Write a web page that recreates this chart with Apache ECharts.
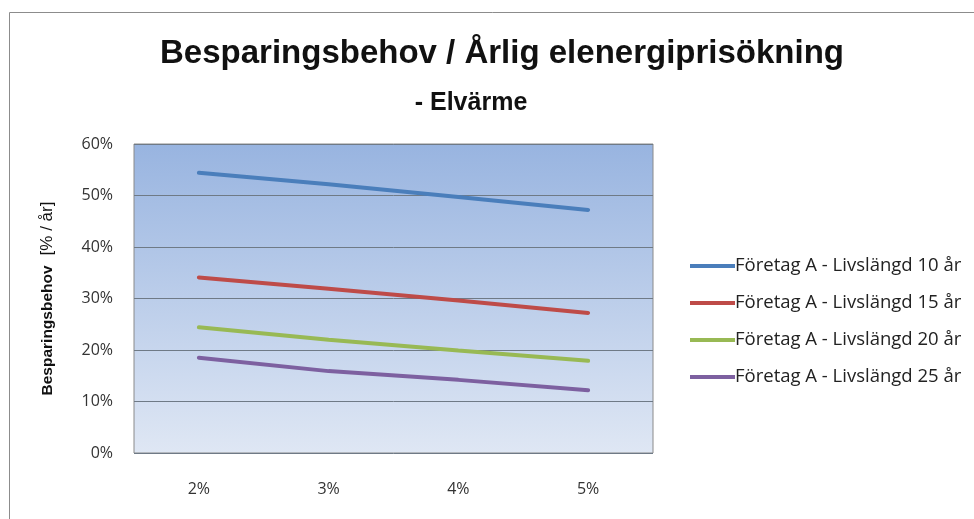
<!DOCTYPE html>
<html>
<head>
<meta charset="utf-8">
<script src="https://cdn.jsdelivr.net/npm/echarts@6/dist/echarts.min.js"></script>
<style>
html,body{margin:0;padding:0;background:#fff;}
#c{width:974px;height:519px;}
</style>
</head>
<body>
<div id="c"></div>
<script>
var categories = ['2%', '3%', '4%', '5%'];
var seriesNames = [
  'Företag A - Livslängd 10 år',
  'Företag A - Livslängd 15 år',
  'Företag A - Livslängd 20 år',
  'Företag A - Livslängd 25 år'
];
var life10 = [54.4, 52.2, 49.7, 47.2];
var life15 = [34.1, 31.9, 29.6, 27.2];
var life20 = [24.4, 22.0, 19.9, 17.9];
var life25 = [18.5, 15.9, 14.2, 12.2];
var yTicks = [0, 10, 20, 30, 40, 50, 60];

var colors = ['#4a7ebb', '#be4b48', '#98b954', '#7d60a0'];
var values = [life10, life15, life20, life25];

var chart = echarts.init(document.getElementById('c'));
var font = 'Open Sans, Noto Sans, sans-serif';
chart.setOption({
  animation: false,
  backgroundColor: '#ffffff',
  color: colors,
  graphic: [{
    type: 'rect',
    shape: {x: 9.5, y: 12.5, width: 1000, height: 600},
    style: {fill: 'none', stroke: '#8c8c8c', lineWidth: 1},
    z: -1
  }],
  title: [{
    text: 'Besparingsbehov / Årlig elenergiprisökning',
    left: 497, top: 32, textAlign: 'center',
    textStyle: {fontFamily: 'Liberation Sans, sans-serif', fontWeight: 'bold', fontSize: 33, color: '#111'}
  }, {
    text: '- Elvärme',
    left: 466, top: 86, textAlign: 'center',
    textStyle: {fontFamily: 'Liberation Sans, sans-serif', fontWeight: 'bold', fontSize: 25, color: '#111'}
  }],
  grid: {
    left: 134, top: 144, right: 321, bottom: 66,
    show: true,
    borderColor: '#8a8a8a', borderWidth: 1,
    backgroundColor: {
      type: 'linear', x: 0, y: 0, x2: 0, y2: 1,
      colorStops: [{offset: 0, color: '#98b4e0'}, {offset: 1, color: '#dfe7f4'}]
    }
  },
  legend: {
    orient: 'vertical',
    left: 690, top: 256,
    padding: 0,
    icon: 'rect',
    itemWidth: 45, itemHeight: 4,
    itemGap: 17,
    data: seriesNames,
    textStyle: {fontFamily: font, fontSize: 18.5, color: '#222', lineHeight: 20, padding: [0, 0, 0, -5]}
  },
  xAxis: {
    type: 'category',
    data: categories,
    boundaryGap: true,
    axisLine: {show: false},
    axisTick: {show: false},
    axisLabel: {margin: 28, fontFamily: font, fontSize: 16, color: '#333'}
  },
  yAxis: {
    type: 'value',
    min: yTicks[0], max: yTicks[yTicks.length - 1], interval: 10,
    name: '{b|Besparingsbehov}   {n|[% / år]}',
    nameLocation: 'middle',
    nameGap: 78,
    nameRotate: 90,
    nameTextStyle: {
      rich: {
        b: {fontFamily: 'Liberation Sans, sans-serif', fontWeight: 'bold', fontSize: 15.5, color: '#111'},
        n: {fontFamily: 'Liberation Sans, sans-serif', fontSize: 17, color: '#111'}
      }
    },
    axisLine: {show: false},
    axisTick: {show: false},
    splitLine: {lineStyle: {color: '#6f7a86', width: 1}},
    axisLabel: {formatter: '{value}%', margin: 21, fontFamily: font, fontSize: 16, color: '#333'}
  },
  series: values.map(function (v, i) {
    return {
      name: seriesNames[i],
      type: 'line',
      data: v,
      symbol: 'none',
      lineStyle: {width: 4, color: colors[i], cap: 'round'},
      itemStyle: {color: colors[i]}
    };
  })
});
</script>
</body>
</html>
